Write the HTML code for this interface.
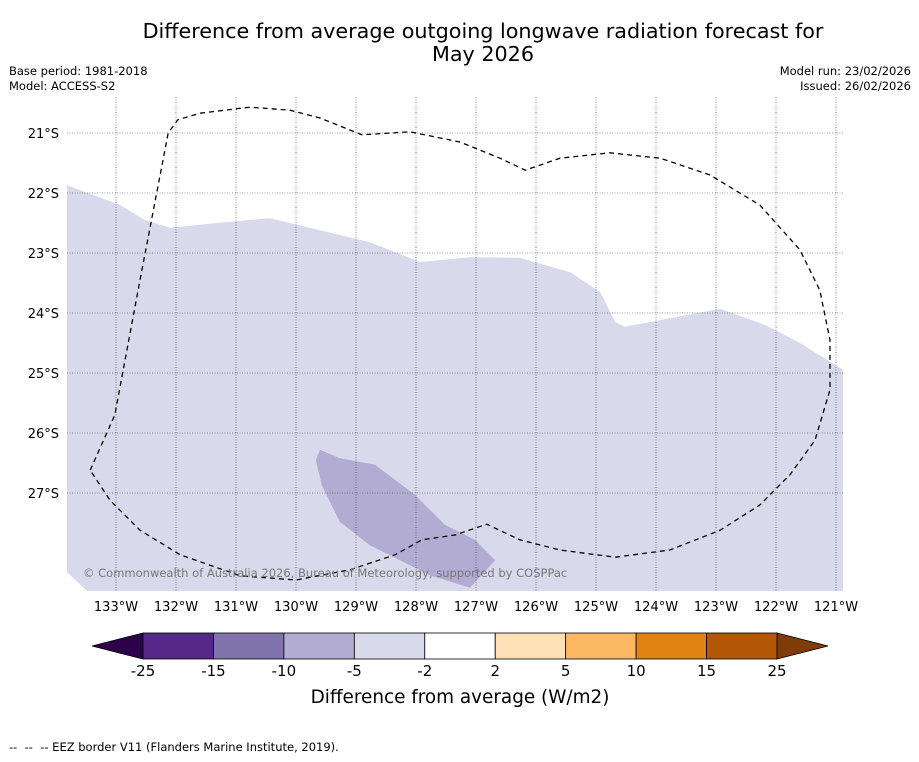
<!DOCTYPE html>
<html><head><meta charset="utf-8"><style>
body{margin:0;background:#fff;font-family:"DejaVu Sans","Liberation Sans",sans-serif;}
svg text{font-family:"DejaVu Sans","Liberation Sans",sans-serif;}
</style></head><body>
<svg id="c" width="919" height="758" xmlns="http://www.w3.org/2000/svg">
<text x="483" y="38" font-size="20.7" text-anchor="middle">Difference from average outgoing longwave radiation forecast for</text>
<text x="483" y="61" font-size="20.7" text-anchor="middle">May 2026</text>
<text x="9" y="75" font-size="11.5">Base period: 1981-2018</text>
<text x="9" y="90" font-size="11.5">Model: ACCESS-S2</text>
<text x="911" y="75" font-size="11.5" text-anchor="end">Model run: 23/02/2026</text>
<text x="911" y="90" font-size="11.5" text-anchor="end">Issued: 26/02/2026</text>
<g id="map"></g>
<g id="cb"></g>
<text x="460" y="703" font-size="18.4" text-anchor="middle">Difference from average (W/m2)</text>
<text x="9" y="751" font-size="11.5" xml:space="preserve" style="white-space:pre">--  --  -- EEZ border V11 (Flanders Marine Institute, 2019).</text>
</svg>
<script>
const lonTicks=[-133,-132,-131,-130,-129,-128,-127,-126,-125,-124,-123,-122,-121];
const latTicks=[-21,-22,-23,-24,-25,-26,-27];
const cbBounds=[-25,-15,-10,-5,-2,2,5,10,15,25];
const cbColors=["#542788","#8073ac","#b2abd2","#d8daeb","#ffffff","#fee0b6","#fdb863","#e08214","#b35806"];
const cbUnder="#2d004b", cbOver="#7f3b08";
const lightLon=[-133.82,-132.93,-132.52,-132.1,-131.1,-130.43,-129.6,-128.77,-127.93,-127.1,-126.27,-125.43,-124.93,-124.68,-124.52,-122.93,-122.18,-121.6,-120.88,-120.88,-133.3,-133.82];
const lightLat=[-21.87,-22.2,-22.45,-22.58,-22.48,-22.42,-22.62,-22.82,-23.15,-23.07,-23.08,-23.32,-23.65,-24.15,-24.23,-23.93,-24.2,-24.5,-24.95,-28.8,-28.8,-28.32];
const darkLon=[-129.6,-129.67,-129.57,-129.27,-128.77,-127.77,-127.1,-126.68,-127.02,-127.52,-128.02,-128.68,-129.27];
const darkLat=[-26.28,-26.45,-26.87,-27.48,-27.87,-28.37,-28.58,-28.12,-27.78,-27.53,-27.03,-26.53,-26.42];
const eezLon=[-133.43,-133.02,-132.6,-132.13,-131.97,-131.6,-130.77,-130.1,-129.6,-128.9,-128.1,-127.27,-126.6,-126.18,-125.6,-124.77,-123.93,-123.1,-122.27,-121.6,-121.27,-121.1,-121.1,-121.35,-121.77,-122.27,-122.93,-123.77,-124.68,-125.6,-126.27,-126.82,-127.35,-127.9,-128.35,-129.1,-130.0,-130.93,-131.93,-132.6,-133.1,-133.43];
const eezLat=[-26.62,-25.7,-23.45,-21.0,-20.78,-20.67,-20.57,-20.62,-20.75,-21.03,-20.98,-21.15,-21.42,-21.62,-21.42,-21.33,-21.42,-21.7,-22.2,-22.95,-23.62,-24.45,-25.28,-26.12,-26.7,-27.2,-27.62,-27.95,-28.07,-27.95,-27.78,-27.52,-27.7,-27.78,-28.03,-28.28,-28.45,-28.38,-28.03,-27.62,-27.12,-26.62];
const NS="http://www.w3.org/2000/svg";
const X0=67,X1=843,Y0=97,Y1=591;
const xs=lon=>116+(lon+133)*60;
const ys=lat=>133+(-21-lat)*60;
function mk(tag,attrs,parent){const e=document.createElementNS(NS,tag);for(const k in attrs)e.setAttribute(k,attrs[k]);parent.appendChild(e);return e;}
const map=document.getElementById('map');
const defs=mk('defs',{},map);
const cp=mk('clipPath',{id:'clip'},defs);
mk('rect',{x:X0,y:Y0,width:X1-X0,height:Y1-Y0},cp);
const g=mk('g',{'clip-path':'url(#clip)'},map);
function pts(lo,la){return lo.map((v,i)=>xs(v).toFixed(1)+','+ys(la[i]).toFixed(1)).join(' ');}
let e=mk('polygon',{points:pts(lightLon,lightLat),fill:cbColors[3]},g);


e=mk('polygon',{points:pts(darkLon,darkLat),fill:cbColors[2]},g);


lonTicks.forEach(l=>{
 const x=xs(l);
 const ln=mk('line',{x1:x,x2:x,y1:Y0,y2:Y1,stroke:'#444','stroke-width':0.6,'stroke-dasharray':'1,1.5'},g);
 
 
 const t=mk('text',{x:x,y:611,'font-size':13,'text-anchor':'middle'},map);
 t.textContent=Math.abs(l)+'°W';
 
 
});
latTicks.forEach(l=>{
 const y=ys(l);
 const ln=mk('line',{x1:X0,x2:X1,y1:y,y2:y,stroke:'#444','stroke-width':0.6,'stroke-dasharray':'1,1.5'},g);
 
 
 const t=mk('text',{x:59,y:y+5,'font-size':13,'text-anchor':'end'},map);
 t.textContent=Math.abs(l)+'°S';
 
 
});
e=mk('polyline',{points:pts(eezLon,eezLat),fill:'none',stroke:'#000','stroke-width':1.3,'stroke-dasharray':'5,4'},g);


e=mk('text',{x:83,y:577,'font-size':11.5,fill:'#777'},map);
e.textContent='© Commonwealth of Australia 2026, Bureau of Meteorology, supported by COSPPac';


const cb=document.getElementById('cb');
const CX0=143,CX1=777,CY0=633,CY1=659,n=cbBounds.length-1,seg=(CX1-CX0)/n;
const cx=i=>CX0+i*seg;
e=mk('polygon',{points:`${CX0},${CY0} ${CX0},${CY1} 92,646`,fill:cbUnder,stroke:'#000','stroke-width':0.8},cb);


e=mk('polygon',{points:`${CX1},${CY0} ${CX1},${CY1} 828,646`,fill:cbOver,stroke:'#000','stroke-width':0.8},cb);


cbColors.forEach((c,i)=>{
 const r=mk('rect',{x:cx(i),y:CY0,width:seg,height:CY1-CY0,fill:c,stroke:'#000','stroke-width':0.8},cb);
 
 
});
cbBounds.forEach((b,i)=>{
 const t=mk('text',{x:cx(i),y:676,'font-size':15,'text-anchor':'middle'},cb);
 t.textContent=b;
 
 
});
</script>
</body></html>
